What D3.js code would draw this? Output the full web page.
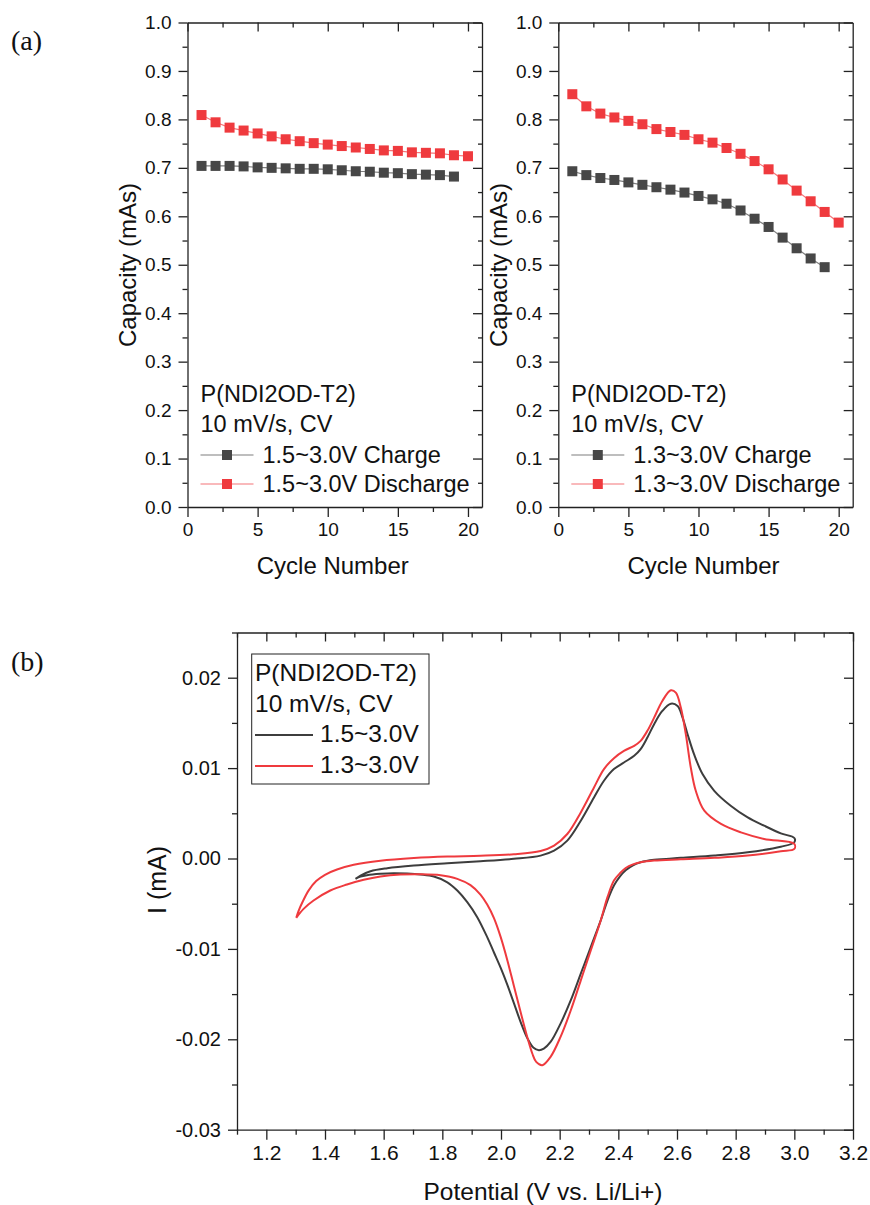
<!DOCTYPE html>
<html>
<head>
<meta charset="utf-8">
<script src="https://cdn.jsdelivr.net/npm/d3@7"></script>
<style>
  body { margin: 0; background: #fff; }
  svg text { font-family: "Liberation Sans", Arial, sans-serif; fill: #111; }
  .axis .domain { stroke: #222; stroke-width: 1.3; }
  .axis .tick line { stroke: #222; stroke-width: 1.3; }
</style>
</head>
<body>
<svg id="fig" width="870" height="1205"></svg>
<script>
// ---- data: capacity vs cycle ----
const cycles = [1, 2, 3, 4, 5, 6, 7, 8, 9, 10, 11, 12, 13, 14, 15, 16, 17, 18, 19, 20];

const charge15 = [0.704, 0.704, 0.704, 0.703, 0.701, 0.700, 0.699, 0.698, 0.698, 0.697,
  0.695, 0.693, 0.692, 0.690, 0.689, 0.687, 0.686, 0.685, 0.682];
const discharge15 = [0.809, 0.794, 0.783, 0.777, 0.771, 0.765, 0.759, 0.755, 0.751, 0.748,
  0.745, 0.742, 0.739, 0.736, 0.735, 0.732, 0.731, 0.730, 0.726, 0.724];

const charge13 = [0.693, 0.685, 0.679, 0.675, 0.670, 0.665, 0.660, 0.655, 0.649, 0.642,
  0.635, 0.626, 0.612, 0.595, 0.578, 0.556, 0.534, 0.513, 0.495];
const discharge13 = [0.852, 0.827, 0.812, 0.804, 0.797, 0.790, 0.780, 0.774, 0.768, 0.759,
  0.752, 0.741, 0.729, 0.714, 0.697, 0.676, 0.653, 0.631, 0.609, 0.587];

const capTicksX = [0, 5, 10, 15, 20];
const capTicksY = [0, 0.1, 0.2, 0.3, 0.4, 0.5, 0.6, 0.7, 0.8, 0.9, 1.0];

// ---- data: CV curves [potential V, current mA], in sweep order ----
const cv15 = [
  [1.504, -0.00225], [1.521, -0.00189], [1.555, -0.00141], [1.612, -0.00108], [1.703, -0.00078],
  [1.817, -0.00053], [1.930, -0.00031], [2.044, -0.00004], [2.135, 0.00032], [2.181, 0.00087],
  [2.226, 0.00198], [2.272, 0.00418], [2.317, 0.00675], [2.351, 0.00860], [2.385, 0.00989],
  [2.419, 0.01062], [2.454, 0.01136], [2.476, 0.01210], [2.499, 0.01338], [2.522, 0.01486],
  [2.550, 0.01632], [2.579, 0.01713], [2.602, 0.01688], [2.619, 0.01558], [2.636, 0.01375],
  [2.658, 0.01155], [2.687, 0.00934], [2.727, 0.00749], [2.783, 0.00584], [2.841, 0.00455],
  [2.897, 0.00363], [2.954, 0.00278], [3.000, 0.00227],
  [3.000, 0.00180], [2.954, 0.00130], [2.841, 0.00068], [2.727, 0.00032], [2.613, 0.00007],
  [2.522, -0.00015], [2.476, -0.00042], [2.450, -0.00075], [2.425, -0.00130], [2.405, -0.00200],
  [2.385, -0.00299], [2.363, -0.00465], [2.340, -0.00685], [2.306, -0.00980], [2.272, -0.01274],
  [2.238, -0.01568], [2.203, -0.01826], [2.169, -0.02029], [2.146, -0.02102], [2.129, -0.02120],
  [2.110, -0.02090], [2.090, -0.01990], [2.067, -0.01810], [2.044, -0.01600], [2.022, -0.01400],
  [1.999, -0.01210], [1.976, -0.01040], [1.953, -0.00870], [1.919, -0.00649], [1.885, -0.00483],
  [1.851, -0.00354], [1.817, -0.00263], [1.771, -0.00200], [1.726, -0.00178], [1.680, -0.00167],
  [1.634, -0.00163], [1.589, -0.00170], [1.543, -0.00185], [1.521, -0.00200], [1.504, -0.00225]
];

const cv13 = [
  [1.302, -0.00656], [1.310, -0.00580], [1.325, -0.00470], [1.345, -0.00350], [1.370, -0.00250],
  [1.400, -0.00180], [1.441, -0.00122], [1.498, -0.00070], [1.589, -0.00025], [1.703, 0.00005],
  [1.817, 0.00022], [1.930, 0.00030], [2.044, 0.00047], [2.135, 0.00083], [2.181, 0.00142],
  [2.226, 0.00271], [2.272, 0.00510], [2.317, 0.00786], [2.351, 0.00989], [2.385, 0.01110],
  [2.419, 0.01191], [2.454, 0.01246], [2.476, 0.01301], [2.499, 0.01412], [2.522, 0.01558],
  [2.550, 0.01743], [2.579, 0.01861], [2.596, 0.01835], [2.613, 0.01669], [2.630, 0.01375],
  [2.647, 0.01007], [2.664, 0.00749], [2.693, 0.00529], [2.750, 0.00382], [2.818, 0.00289],
  [2.897, 0.00216], [3.000, 0.00161],
  [3.000, 0.00106], [2.954, 0.00080], [2.841, 0.00032], [2.727, 0.00007], [2.613, -0.00009],
  [2.522, -0.00023], [2.476, -0.00042], [2.450, -0.00065], [2.425, -0.00105], [2.405, -0.00165],
  [2.385, -0.00244], [2.363, -0.00428], [2.340, -0.00685], [2.306, -0.01017], [2.272, -0.01348],
  [2.238, -0.01679], [2.203, -0.01973], [2.169, -0.02194], [2.141, -0.02286], [2.120, -0.02250],
  [2.107, -0.02160], [2.090, -0.01980], [2.067, -0.01700], [2.044, -0.01410], [2.022, -0.01130],
  [1.999, -0.00870], [1.976, -0.00660], [1.953, -0.00510], [1.930, -0.00400], [1.896, -0.00295],
  [1.851, -0.00225], [1.794, -0.00185], [1.726, -0.00174], [1.657, -0.00178], [1.589, -0.00200],
  [1.532, -0.00236], [1.475, -0.00288], [1.418, -0.00354], [1.361, -0.00465], [1.327, -0.00557],
  [1.302, -0.00656]
];

const cvTicksX = [1.2, 1.4, 1.6, 1.8, 2.0, 2.2, 2.4, 2.6, 2.8, 3.0, 3.2];
const cvTicksY = [-0.03, -0.02, -0.01, 0.00, 0.01, 0.02];

const COLOR_BLACK = '#474747';
const COLOR_RED = '#ef3a3e';

const svg = d3.select('#fig');

// draw a boxed frame: labelled outward ticks on bottom/left, inward ticks on top/right
function drawFrame(x, y, cfg) {
  const [x0, x1] = x.range();
  const [y0, y1] = y.range();   // y0 = bottom, y1 = top

  const bottom = svg.append('g').attr('class', 'axis')
    .attr('transform', `translate(0,${y0})`)
    .call(d3.axisBottom(x).tickValues(cfg.xMajor).tickSize(10).tickSizeOuter(0)
      .tickPadding(cfg.xPad).tickFormat(cfg.xFmt));
  bottom.selectAll('text').attr('font-size', cfg.xFont).attr('fill', '#111');
  svg.append('g').attr('class', 'axis')
    .attr('transform', `translate(0,${y0})`)
    .call(d3.axisBottom(x).tickValues(cfg.xMinor).tickSize(5).tickSizeOuter(0).tickFormat(''))
    .select('.domain').remove();

  const left = svg.append('g').attr('class', 'axis')
    .attr('transform', `translate(${x0},0)`)
    .call(d3.axisLeft(y).tickValues(cfg.yMajor).tickSize(9).tickSizeOuter(0)
      .tickPadding(cfg.yPad).tickFormat(cfg.yFmt));
  left.selectAll('text').attr('font-size', cfg.yFont).attr('fill', '#111');
  svg.append('g').attr('class', 'axis')
    .attr('transform', `translate(${x0},0)`)
    .call(d3.axisLeft(y).tickValues(cfg.yMinor).tickSize(5).tickSizeOuter(0).tickFormat(''))
    .select('.domain').remove();

  // mirrored axes, ticks pointing inward
  svg.append('g').attr('class', 'axis')
    .attr('transform', `translate(0,${y1})`)
    .call(d3.axisBottom(x).tickValues(cfg.xMajor).tickSize(9).tickSizeOuter(0).tickFormat(''));
  svg.append('g').attr('class', 'axis')
    .attr('transform', `translate(0,${y1})`)
    .call(d3.axisBottom(x).tickValues(cfg.xMinor).tickSize(5).tickSizeOuter(0).tickFormat(''))
    .select('.domain').remove();
  svg.append('g').attr('class', 'axis')
    .attr('transform', `translate(${x1},0)`)
    .call(d3.axisLeft(y).tickValues(cfg.yMajor).tickSize(9).tickSizeOuter(0).tickFormat(''));
  svg.append('g').attr('class', 'axis')
    .attr('transform', `translate(${x1},0)`)
    .call(d3.axisLeft(y).tickValues(cfg.yMinor).tickSize(4).tickSizeOuter(0).tickFormat(''))
    .select('.domain').remove();
}

function capacityPanel(p) {
  const x = d3.scaleLinear().domain([0, 21]).range([p.left, p.right]);
  const y = d3.scaleLinear().domain([0, 1]).range([507, 22.5]);

  drawFrame(x, y, {
    xMajor: capTicksX, xMinor: [2.5, 7.5, 12.5, 17.5],
    yMajor: capTicksY, yMinor: capTicksY.slice(0, -1).map(v => v + 0.05),
    xFmt: d3.format('d'), yFmt: d3.format('.1f'),
    xFont: '19px', yFont: '19px', xPad: 6, yPad: 7
  });

  const series = [
    { values: p.charge, color: COLOR_BLACK },
    { values: p.discharge, color: COLOR_RED }
  ];
  const line = d3.line().x(d => x(d[0])).y(d => y(d[1]));

  series.forEach(s => {
    const pts = s.values.map((v, i) => [cycles[i], v]);
    svg.append('path').datum(pts)
      .attr('d', line).attr('fill', 'none')
      .attr('stroke', s.color).attr('stroke-width', 1.2).attr('stroke-opacity', 0.7);
    svg.append('g').selectAll('rect').data(pts).join('rect')
      .attr('x', d => x(d[0]) - 5).attr('y', d => y(d[1]) - 5)
      .attr('width', 10).attr('height', 10)
      .attr('fill', s.color);
  });

  // axis titles
  svg.append('text')
    .attr('x', (p.left + p.right) / 2 - 2).attr('y', 574)
    .attr('text-anchor', 'middle').attr('font-size', '24px')
    .text('Cycle Number');
  svg.append('text')
    .attr('transform', `translate(${p.titleX},265) rotate(-90)`)
    .attr('text-anchor', 'middle').attr('dy', '0.35em').attr('font-size', '24px')
    .text('Capacity (mAs)');

  // legend
  const lx = p.left + 13;
  svg.append('text').attr('x', lx).attr('y', 402).attr('font-size', '23.5px').text('P(NDI2OD-T2)');
  svg.append('text').attr('x', lx).attr('y', 432).attr('font-size', '23.5px').text('10 mV/s, CV');
  const rows = [
    { label: p.range + ' Charge', color: COLOR_BLACK, y: 455 },
    { label: p.range + ' Discharge', color: COLOR_RED, y: 484 }
  ];
  rows.forEach(r => {
    svg.append('line')
      .attr('x1', lx).attr('x2', lx + 53).attr('y1', r.y).attr('y2', r.y)
      .attr('stroke', r.color).attr('stroke-width', 1.2).attr('stroke-opacity', 0.7);
    svg.append('rect')
      .attr('x', lx + 26.5 - 5).attr('y', r.y - 5).attr('width', 10).attr('height', 10)
      .attr('fill', r.color);
    svg.append('text').attr('x', lx + 62).attr('y', r.y + 7.5)
      .attr('font-size', '23.5px').text(r.label);
  });
}

capacityPanel({ left: 187.5, right: 482, titleX: 128, charge: charge15, discharge: discharge15, range: '1.5~3.0V' });
capacityPanel({ left: 558.3, right: 852.7, titleX: 499, charge: charge13, discharge: discharge13, range: '1.3~3.0V' });

// ---- panel (b): cyclic voltammetry ----
(function cvPanel() {
  const x = d3.scaleLinear().domain([1.1, 3.2]).range([237, 853]);
  const y = d3.scaleLinear().domain([-0.03, 0.025]).range([1129.7, 632.5]);

  drawFrame(x, y, {
    xMajor: cvTicksX, xMinor: cvTicksX.map(v => v - 0.1),
    yMajor: cvTicksY, yMinor: cvTicksY.map(v => v + 0.005),
    xFmt: d => d.toFixed(1), yFmt: d => d.toFixed(2),
    xFont: '21px', yFont: '20px', xPad: 5, yPad: 7
  });

  const line = d3.line()
    .x(d => x(d[0])).y(d => y(d[1]))
    .curve(d3.curveCatmullRom.alpha(0.5));

  svg.append('path').datum(cv15).attr('d', line)
    .attr('fill', 'none').attr('stroke', '#3d3d3d').attr('stroke-width', 2);
  svg.append('path').datum(cv13).attr('d', line)
    .attr('fill', 'none').attr('stroke', COLOR_RED).attr('stroke-width', 2);

  svg.append('text')
    .attr('x', 543).attr('y', 1200)
    .attr('text-anchor', 'middle').attr('font-size', '24.5px')
    .text('Potential (V vs. Li/Li+)');
  svg.append('text')
    .attr('transform', 'translate(157,880) rotate(-90)')
    .attr('text-anchor', 'middle').attr('dy', '0.35em').attr('font-size', '25px')
    .text('I (mA)');

  // legend box
  svg.append('rect')
    .attr('x', 251.7).attr('y', 654).attr('width', 177.3).attr('height', 130)
    .attr('fill', '#fff').attr('stroke', '#222').attr('stroke-width', 1);
  svg.append('text').attr('x', 255).attr('y', 681).attr('font-size', '24.5px').text('P(NDI2OD-T2)');
  svg.append('text').attr('x', 255).attr('y', 712).attr('font-size', '24.5px').text('10 mV/s, CV');
  const rows = [
    { label: '1.5~3.0V', color: '#3d3d3d', y: 735 },
    { label: '1.3~3.0V', color: COLOR_RED, y: 766 }
  ];
  rows.forEach(r => {
    svg.append('line')
      .attr('x1', 255).attr('x2', 313).attr('y1', r.y).attr('y2', r.y)
      .attr('stroke', r.color).attr('stroke-width', 2);
    svg.append('text').attr('x', 320).attr('y', r.y + 7).attr('font-size', '24.5px').text(r.label);
  });
})();

// panel letters
svg.append('text').attr('x', 11).attr('y', 50)
  .style('font-family', '"Liberation Serif", "Times New Roman", serif')
  .attr('font-size', '28px').text('(a)');
svg.append('text').attr('x', 11).attr('y', 671)
  .style('font-family', '"Liberation Serif", "Times New Roman", serif')
  .attr('font-size', '28px').text('(b)');
</script>
</body>
</html>
